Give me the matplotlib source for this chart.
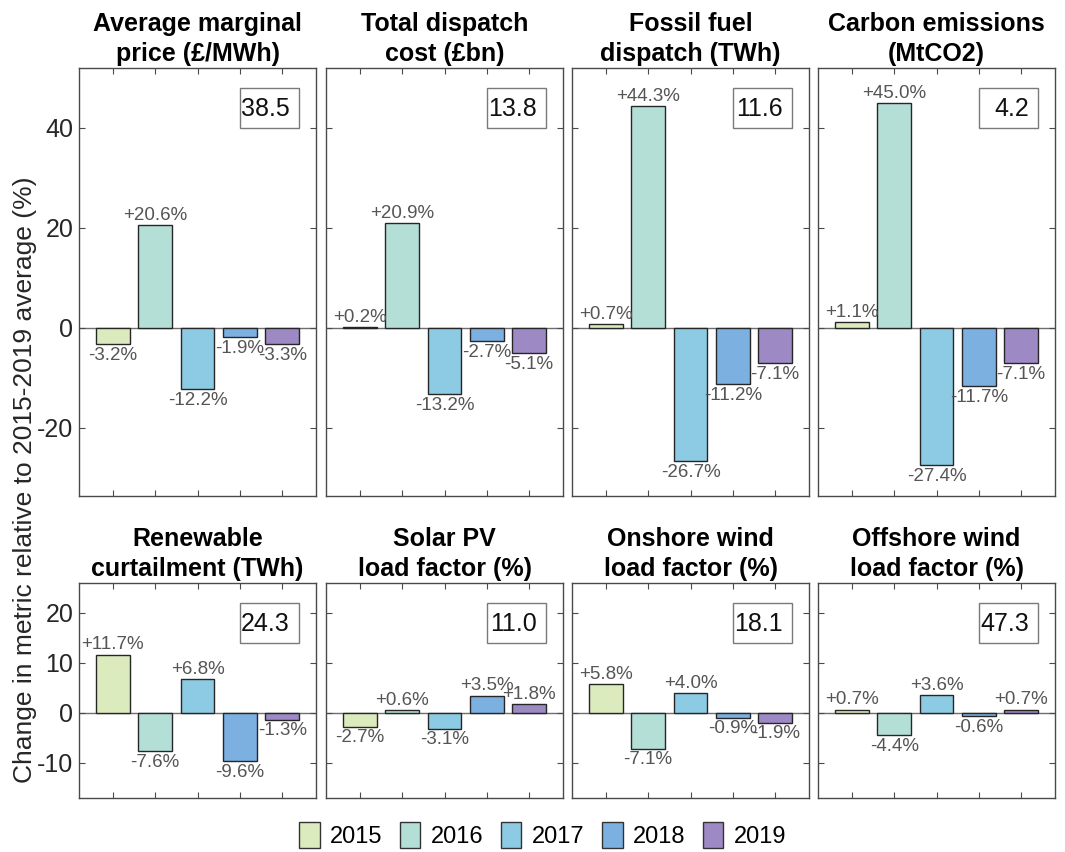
import matplotlib
matplotlib.use("Agg")
import matplotlib.pyplot as plt
from matplotlib.patches import Patch, Rectangle
import numpy as np

plt.rcParams['font.family'] = ['Liberation Sans', 'DejaVu Sans']
plt.rcParams['axes.unicode_minus'] = False

years = ['2015', '2016', '2017', '2018', '2019']
year_colors = ['#dcebbd', '#b3dfd7', '#8dcae3', '#7bb0e1', '#9d89c4']

titles = [
    'Average marginal\nprice (£/MWh)',
    'Total dispatch\ncost (£bn)',
    'Fossil fuel\ndispatch (TWh)',
    'Carbon emissions\n(MtCO2)',
    'Renewable\ncurtailment (TWh)',
    'Solar PV\nload factor (%)',
    'Onshore wind\nload factor (%)',
    'Offshore wind\nload factor (%)',
]

# % change of each year relative to the 2015-2019 average
price_change = [-3.2, 20.6, -12.2, -1.9, -3.3]
cost_change = [0.2, 20.9, -13.2, -2.7, -5.1]
fossil_change = [0.7, 44.3, -26.7, -11.2, -7.1]
carbon_change = [1.1, 45.0, -27.4, -11.7, -7.1]
curtail_change = [11.7, -7.6, 6.8, -9.6, -1.3]
solar_change = [-2.7, 0.6, -3.1, 3.5, 1.8]
onshore_change = [5.8, -7.1, 4.0, -0.9, -1.9]
offshore_change = [0.7, -4.4, 3.6, -0.6, 0.7]

# 2015-2019 average of each metric (absolute units)
averages = ['38.5', '13.8', '11.6', '4.2', '24.3', '11.0', '18.1', '47.3']

changes = [price_change, cost_change, fossil_change, carbon_change,
           curtail_change, solar_change, onshore_change, offshore_change]

top_ylim = (-33.6, 52)
top_yticks = [-20, 0, 20, 40]
bot_ylim = (-17, 26)
bot_yticks = [-10, 0, 10, 20]

W, H = 1065, 852
fig = plt.figure(figsize=(W / 100, H / 100), dpi=100)

lefts = [79, 326, 572, 818]
ax_w = 237
rows = [(68, 496), (583, 798)]

spine_col = '#4a4a4a'
x = np.arange(1, 6)

for i in range(8):
    r, c = divmod(i, 4)
    top, bot = rows[r]
    ax = fig.add_axes([lefts[c] / W, 1 - bot / H, ax_w / W, (bot - top) / H])
    vals = changes[i]
    ax.axhline(0, color='#6e6e6e', lw=1.0, zorder=1)
    ax.bar(x, vals, width=0.8, color=year_colors, edgecolor='#262626',
           linewidth=1.0, zorder=2)
    ax.set_xlim(0.2, 5.8)
    if r == 0:
        ax.set_ylim(*top_ylim)
        ax.set_yticks(top_yticks)
    else:
        ax.set_ylim(*bot_ylim)
        ax.set_yticks(bot_yticks)
    ax.set_xticks(x)
    ax.set_xticklabels([])
    if c != 0:
        ax.set_yticklabels([])
    ax.tick_params(direction='in', length=4, width=0.8, colors=spine_col,
                   top=True, right=True, labelsize=18, labelcolor='#262626',
                   pad=4)
    for s in ax.spines.values():
        s.set_color(spine_col)
        s.set_linewidth(1.0)
    ax.set_title(titles[i], fontsize=18, fontweight='bold', pad=5,
                 linespacing=1.3)

    for xi, v in zip(x, vals):
        if v >= 0:
            ax.annotate(f'{v:+.1f}%', (xi, v), xytext=(0, 1),
                        textcoords='offset points', ha='center', va='bottom',
                        fontsize=13.5, color='#555555',
                        annotation_clip=False, zorder=3)
        else:
            ax.annotate(f'{v:+.1f}%', (xi, v), xytext=(0, -2),
                        textcoords='offset points', ha='center', va='top',
                        fontsize=13.5, color='#555555',
                        annotation_clip=False, zorder=3)

    # average-value box anchored to the top-right corner of the axes
    bx0 = lefts[c] + ax_w - 17 - 59
    by0 = top + 20
    fig.patches.append(Rectangle((bx0 / W, 1 - (by0 + 40) / H), 59 / W, 40 / H,
                                 transform=fig.transFigure, fill=False,
                                 edgecolor='#7a7a7a', linewidth=1.0,
                                 zorder=5))
    fig.text((bx0 + 59 - 9) / W, 1 - (by0 + 21) / H, averages[i],
             ha='right', va='center', fontsize=18, color='#111111')

fig.text(32 / W, 1 - 480 / H,
         'Change in metric relative to 2015-2019 average (%)',
         rotation=90, rotation_mode='anchor', ha='center', va='baseline',
         fontsize=19, color='#262626')

handles = [Patch(facecolor=col, edgecolor='#333333', linewidth=1.0, label=y)
           for col, y in zip(year_colors, years)]
fig.legend(handles=handles, loc='center', bbox_to_anchor=(543 / W, 1 - 835 / H),
           ncol=5, frameon=False, fontsize=17, handlelength=0.85,
           handleheight=1.35, handletextpad=0.45, columnspacing=0.75)

fig.savefig('out.png', dpi=100, facecolor='white')
